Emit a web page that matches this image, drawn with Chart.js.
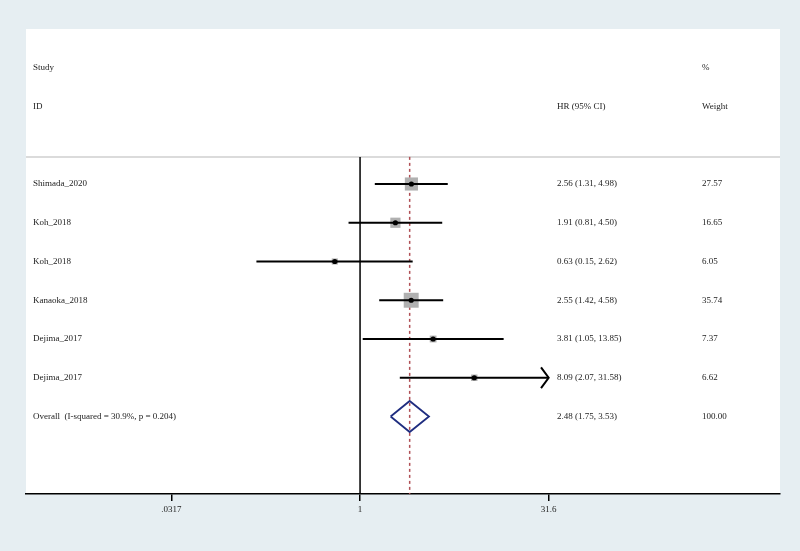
<!DOCTYPE html>
<html>
<head>
<meta charset="utf-8">
<script src="https://cdn.jsdelivr.net/npm/chart.js@4/dist/chart.umd.min.js"></script>
<style>
  html, body { margin: 0; padding: 0; background: #e6eef2; }
  #wrap { width: 800px; height: 551px; position: relative; }
</style>
</head>
<body>
<div id="wrap"><canvas id="c" width="800" height="551"></canvas></div>
<script>
// ---- data ----
const studies = ["Shimada_2020", "Koh_2018", "Koh_2018", "Kanaoka_2018", "Dejima_2017", "Dejima_2017"];
const hr      = [2.56, 1.91, 0.63, 2.55, 3.81, 8.09];
const lower   = [1.31, 0.81, 0.15, 1.42, 1.05, 2.07];
const upper   = [4.98, 4.50, 2.62, 4.58, 13.85, 31.58];
const weights = [27.57, 16.65, 6.05, 35.74, 7.37, 6.62];
const overallLabel  = "Overall  (I-squared = 30.9%, p = 0.204)";
const overallHR     = [2.48];
const overallLower  = [1.75];
const overallUpper  = [3.53];
const overallWeight = ["100.00"];
const tickValues = [0.0317, 1, 31.6];
const tickLabels = [".0317", "1", "31.6"];
const truncateAt = 31.6;

// ---- derived structures ----
const rows = studies.map((s, i) => i + 1);
const overallRow = studies.length + 1;
const fmt = (v) => v.toFixed(2);

const ciData = [];
studies.forEach((s, i) => {
  ciData.push({x: lower[i], y: rows[i]});
  ciData.push({x: Math.min(upper[i], truncateAt), y: rows[i]});
  ciData.push({x: null, y: null});
});
const boxData = studies.map((s, i) => ({x: hr[i], y: rows[i]}));
const boxRadius = weights.map(w => 2.5 * Math.sqrt(w) / Math.SQRT2);
const diamondData = [
  {x: overallLower[0], y: overallRow},
  {x: overallHR[0], y: overallRow - 0.4},
  {x: overallUpper[0], y: overallRow},
  {x: overallHR[0], y: overallRow + 0.4},
  {x: overallLower[0], y: overallRow}
];
const arrowData = [];
studies.forEach((s, i) => {
  if (upper[i] >= truncateAt * 0.99) {
    const tip = Math.min(upper[i], truncateAt);
    arrowData.push({x: tip / 1.15, y: rows[i] - 0.27});
    arrowData.push({x: tip, y: rows[i]});
    arrowData.push({x: tip / 1.15, y: rows[i] + 0.27});
    arrowData.push({x: null, y: null});
  }
});

const X_MIN = 0.00221, X_MAX = 2180;
const Y_MIN = -3, Y_MAX = 9;
const SEP = 0.3;

const textPlugin = {
  id: 'forestText',
  beforeDraw(chart) {
    const {ctx, chartArea: a} = chart;
    ctx.save();
    ctx.fillStyle = '#ffffff';
    ctx.fillRect(a.left, a.top, a.right - a.left, a.bottom - a.top);
    ctx.restore();
  },
  afterDatasetsDraw(chart) {
    const {ctx, chartArea: a, scales} = chart;
    const y = scales.y;
    const colStudy = a.left + 7, colHR = 557, colW = 702;
    ctx.save();
    ctx.font = '9px "Liberation Serif", "Times New Roman", serif';
    ctx.fillStyle = '#222222';
    ctx.textBaseline = 'middle';
    ctx.textAlign = 'left';
    ctx.fillText('Study', colStudy, y.getPixelForValue(-2));
    ctx.fillText('ID', colStudy, y.getPixelForValue(-1));
    ctx.fillText('HR (95% CI)', colHR, y.getPixelForValue(-1));
    ctx.fillText('%', colW, y.getPixelForValue(-2));
    ctx.fillText('Weight', colW, y.getPixelForValue(-1));
    studies.forEach((s, i) => {
      const py = y.getPixelForValue(rows[i]);
      ctx.fillText(s, colStudy, py);
      ctx.fillText(`${fmt(hr[i])} (${fmt(lower[i])}, ${fmt(upper[i])})`, colHR, py);
      ctx.fillText(fmt(weights[i]), colW, py);
    });
    const po = y.getPixelForValue(overallRow);
    ctx.fillText(overallLabel, colStudy, po);
    ctx.fillText(`${fmt(overallHR[0])} (${fmt(overallLower[0])}, ${fmt(overallUpper[0])})`, colHR, po);
    ctx.fillText(overallWeight[0], colW, po);
    ctx.restore();
  }
};

new Chart(document.getElementById('c'), {
  type: 'scatter',
  data: {
    datasets: [
      { data: [{x: X_MIN, y: SEP}, {x: X_MAX, y: SEP}],
        showLine: true, borderColor: '#cfcfcf', borderWidth: 1.5, pointRadius: 0, order: 9 },
      { data: [{x: 1, y: SEP}, {x: 1, y: Y_MAX}],
        showLine: true, borderColor: '#000000', borderWidth: 1.5, pointRadius: 0, order: 8 },
      { data: [{x: overallHR[0], y: SEP}, {x: overallHR[0], y: Y_MAX}],
        showLine: true, borderColor: '#b04f55', borderWidth: 1.5, borderDash: [3, 3], pointRadius: 0, order: 7 },
      { data: boxData, pointStyle: 'rect', pointRadius: boxRadius,
        backgroundColor: '#b0b0b0', borderWidth: 0, order: 6 },
      { data: ciData, showLine: true, spanGaps: false,
        borderColor: '#000000', borderWidth: 2, pointRadius: 0, order: 5 },
      { data: arrowData, showLine: true, spanGaps: false,
        borderColor: '#000000', borderWidth: 2, pointRadius: 0, order: 4 },
      { data: boxData, pointStyle: 'circle', pointRadius: 2.6,
        backgroundColor: '#000000', borderWidth: 0, order: 3 },
      { data: diamondData, showLine: true, borderColor: '#1f2d80', borderWidth: 1.8,
        pointRadius: 0, order: 2 }
    ]
  },
  plugins: [textPlugin],
  options: {
    responsive: false,
    animation: false,
    events: [],
    layout: { padding: { left: 26, right: 20, top: 29, bottom: 0 } },
    plugins: { legend: { display: false }, tooltip: { enabled: false } },
    scales: {
      x: {
        type: 'logarithmic',
        min: X_MIN, max: X_MAX,
        afterBuildTicks: (s) => { s.ticks = tickValues.map(v => ({value: v})); },
        afterFit: (s) => { s.height = 57; },
        ticks: {
          autoSkip: false, maxRotation: 0, padding: 3,
          color: '#222222',
          font: { family: '"Liberation Serif", serif', size: 9 },
          callback: (v, i) => tickLabels[i]
        },
        grid: { display: true, drawOnChartArea: false, drawTicks: true, tickLength: 7, color: '#000000', lineWidth: 1.5 },
        border: { display: true, color: '#000000', width: 1.5 }
      },
      y: { type: 'linear', reverse: true, min: Y_MIN, max: Y_MAX, display: false }
    }
  }
});
</script>
</body>
</html>
